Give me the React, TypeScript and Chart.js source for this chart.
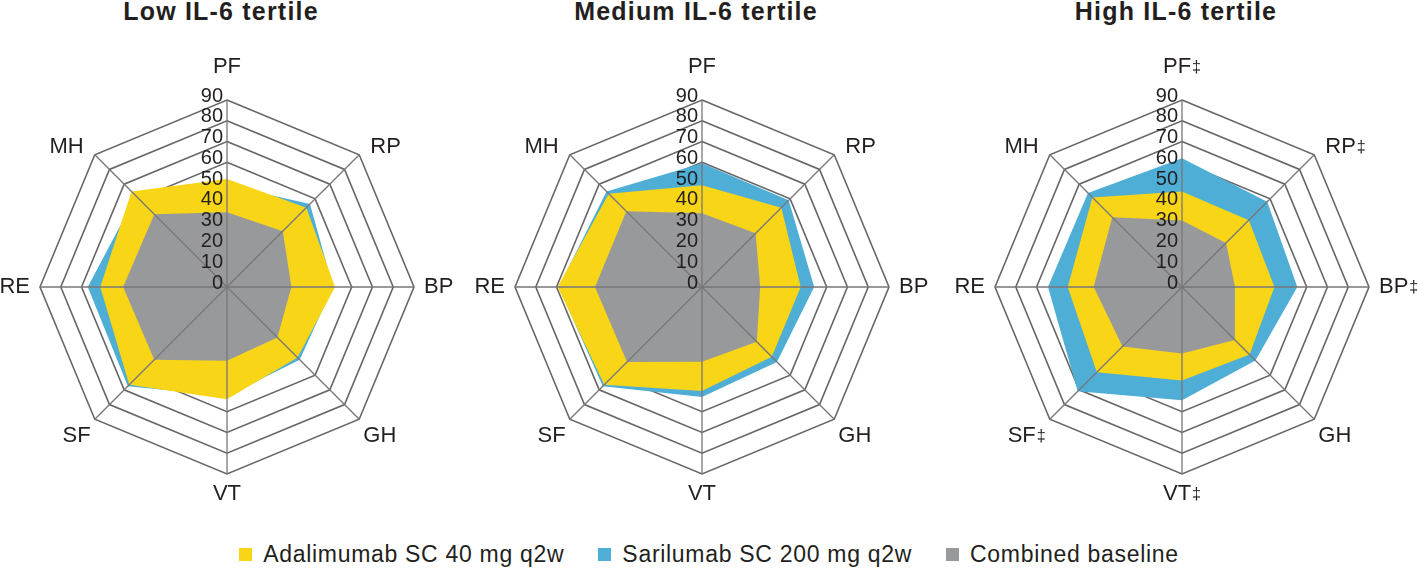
import React, { useEffect, useRef } from 'react';
import { Chart, registerables } from 'chart.js';

Chart.register(...registerables);

// ---- data ----
const categories = ['PF', 'RP', 'BP', 'GH', 'VT', 'SF', 'RE', 'MH'];
const highCategories = ['PF‡', 'RP‡', 'BP‡', 'GH', 'VT‡', 'SF‡', 'RE', 'MH'];
const tickValues = [0, 10, 20, 30, 40, 50, 60, 70, 80, 90];

const seriesNames = ['Adalimumab SC 40 mg q2w', 'Sarilumab SC 200 mg q2w', 'Combined baseline'];

const lowAdalimumab = [52, 54, 52, 48, 54, 66.5, 61, 65];
const lowSarilumab = [49, 56.5, 51, 49.5, 52.5, 67.5, 67, 62];
const lowBaseline = [36, 38, 31, 34.3, 35.5, 49.5, 50, 49.5];

const medAdalimumab = [49, 54, 47.5, 47.5, 50, 66.5, 69.5, 63.5];
const medSarilumab = [59.5, 59, 54, 51, 53, 67.5, 69, 65];
const medBaseline = [35.5, 36.5, 28, 37.3, 36, 51, 51.5, 51.5];

const highAdalimumab = [46, 45.5, 44.5, 46, 45, 58, 55, 61];
const highSarilumab = [62, 58, 55.5, 50, 54.5, 71, 64.5, 64];
const highBaseline = [32, 30, 25.5, 36, 32, 40.5, 42.5, 47.5];

// ---- styles ----
const YELLOW = '#f8d517';
const BLUE = '#4eaed6';
const GRAY = '#98999b';
const GRID_COLOR = '#666668';
const ANGLE_COLOR = '#77777a';
const TEXT = '#231f20';
const FAMILY = '"Liberation Sans", Arial, Helvetica, sans-serif';
const LABEL_SIZE = 22;
const LABEL_FONT = `${LABEL_SIZE}px ${FAMILY}`;
const SUP_FONT = `16px ${FAMILY}`;
const TICK_FONT = `20px ${FAMILY}`;

const CANVAS_W = 470;
const CANVAS_H = 500;

const overlayPlugin = {
  id: 'radarOverlay',
  afterDatasetsDraw(chart: any) {
    const scale = chart.scales.r;
    const ctx = chart.ctx;
    const labels: string[] = chart.data.labels;
    ctx.save();
    // angle lines drawn over the fills
    ctx.strokeStyle = ANGLE_COLOR;
    ctx.lineWidth = 1.3;
    labels.forEach((_l, i) => {
      const p = scale.getPointPositionForValue(i, scale.max);
      ctx.beginPath();
      ctx.moveTo(scale.xCenter, scale.yCenter);
      ctx.lineTo(p.x, p.y);
      ctx.stroke();
    });
    // tick labels, right-aligned left of the vertical axis
    ctx.fillStyle = TEXT;
    ctx.font = TICK_FONT;
    ctx.textAlign = 'right';
    ctx.textBaseline = 'alphabetic';
    tickValues.forEach((v) => {
      const d = scale.getDistanceFromCenterForValue(v);
      ctx.fillText(String(v), scale.xCenter - 4, scale.yCenter - d + 1.5);
    });
    // point labels
    const cap = LABEL_SIZE * 0.716;
    labels.forEach((lab, i) => {
      const a = scale.getPointPosition(i, scale.drawingArea + 10);
      const deg = Math.round((scale.getIndexAngle(i) * 180) / Math.PI) % 360;
      const main = lab.replace('‡', '');
      const sup = lab.includes('‡') ? '‡' : '';
      ctx.font = LABEL_FONT;
      const wMain = ctx.measureText(main).width;
      ctx.font = SUP_FONT;
      const wSup = sup ? ctx.measureText(sup).width + 1 : 0;
      const w = wMain + wSup;
      let x: number;
      let y: number;
      if (deg === 0) { x = a.x - w / 2; y = a.y - 17; }
      else if (deg === 180) { x = a.x - w / 2; y = a.y + cap; }
      else if (deg === 90) { x = a.x; y = a.y - 2 + cap / 2; }
      else if (deg === 270) { x = a.x - w; y = a.y - 2 + cap / 2; }
      else if (deg < 90) { x = a.x + 4; y = a.y + 5.5; }
      else if (deg < 180) { x = a.x - 3; y = a.y + cap; }
      else if (deg < 270) { x = a.x + 3 - w; y = a.y + cap; }
      else { x = a.x - 4 - w; y = a.y + 5.5; }
      ctx.textAlign = 'left';
      ctx.textBaseline = 'alphabetic';
      ctx.font = LABEL_FONT;
      ctx.fillText(main, x, y);
      if (sup) {
        ctx.font = SUP_FONT;
        ctx.fillText(sup, x + wMain + 1, y - 1);
      }
    });
    ctx.restore();
  },
};

type PanelProps = {
  labels: string[];
  ada: number[];
  sari: number[];
  base: number[];
  left: number;
  top: number;
};

function RadarPanel({ labels, ada, sari, base, left, top }: PanelProps) {
  const ref = useRef<HTMLCanvasElement | null>(null);
  useEffect(() => {
    if (!ref.current) return;
    const common = {
      borderWidth: 0,
      borderColor: 'rgba(0,0,0,0)',
      pointRadius: 0,
      pointHoverRadius: 0,
      fill: true,
      tension: 0,
    };
    const chart = new Chart(ref.current, {
      type: 'radar',
      data: {
        labels,
        datasets: [
          { ...common, label: seriesNames[0], data: ada, backgroundColor: YELLOW, order: 1 },
          { ...common, label: seriesNames[1], data: sari, backgroundColor: BLUE, order: 2 },
          { ...common, label: seriesNames[2], data: base, backgroundColor: GRAY, order: 0 },
        ],
      },
      options: {
        animation: false,
        responsive: false,
        devicePixelRatio: 1,
        layout: { padding: { left: 48, right: 48, top: 63, bottom: 63 } },
        plugins: {
          legend: { display: false },
          tooltip: { enabled: false },
          title: { display: false },
        },
        scales: {
          r: {
            min: 0,
            max: 90,
            beginAtZero: true,
            ticks: { stepSize: 10, display: false },
            grid: {
              circular: false,
              lineWidth: 1.6,
              color: (c: any) => (c.tick && c.tick.value >= 60 ? GRID_COLOR : 'rgba(0,0,0,0)'),
            },
            angleLines: { display: false },
            pointLabels: { display: false },
          },
        },
      } as any,
      plugins: [overlayPlugin as any],
    });
    return () => chart.destroy();
  }, [labels, ada, sari, base]);
  return (
    <canvas
      ref={ref}
      width={CANVAS_W}
      height={CANVAS_H}
      style={{ position: 'absolute', left, top, width: CANVAS_W, height: CANVAS_H }}
    />
  );
}

const panels = [
  { title: 'Low IL-6 tertile', labels: categories, ada: lowAdalimumab, sari: lowSarilumab, base: lowBaseline, cx: 227 },
  { title: 'Medium IL-6 tertile', labels: categories, ada: medAdalimumab, sari: medSarilumab, base: medBaseline, cx: 702 },
  { title: 'High IL-6 tertile', labels: highCategories, ada: highAdalimumab, sari: highSarilumab, base: highBaseline, cx: 1182 },
];
const CY = 287;
const legendColors = [YELLOW, BLUE, GRAY];

export default function App() {
  return (
    <div
      style={{
        position: 'absolute',
        left: 0,
        top: 0,
        width: 1418,
        height: 570,
        background: '#fff',
        overflow: 'hidden',
        fontFamily: FAMILY,
        color: TEXT,
      }}
    >
      {panels.map((p) => (
        <div
          key={p.title + '-t'}
          style={{
            position: 'absolute',
            left: p.cx - 6 - 200,
            width: 400,
            top: -4,
            textAlign: 'center',
            fontSize: 25,
            fontWeight: 'bold',
            lineHeight: '30px',
            letterSpacing: '1.2px',
            whiteSpace: 'nowrap',
          }}
        >
          {p.title}
        </div>
      ))}
      {panels.map((p) => (
        <RadarPanel
          key={p.title}
          labels={p.labels}
          ada={p.ada}
          sari={p.sari}
          base={p.base}
          left={p.cx - CANVAS_W / 2}
          top={CY - 250}
        />
      ))}
      <div
        style={{
          position: 'absolute',
          left: 0,
          top: 540,
          width: 1418,
          display: 'flex',
          justifyContent: 'center',
          fontSize: 23,
          lineHeight: '28px',
          letterSpacing: '0.7px',
          whiteSpace: 'nowrap',
        }}
      >
        {seriesNames.map((name, i) => (
          <div key={name} style={{ display: 'flex', alignItems: 'flex-start', marginRight: i < seriesNames.length - 1 ? 34 : 0 }}>
            <span style={{ display: 'inline-block', width: 13, height: 13, marginTop: 8, marginRight: 11, background: legendColors[i] }} />
            <span>{name}</span>
          </div>
        ))}
      </div>
    </div>
  );
}
